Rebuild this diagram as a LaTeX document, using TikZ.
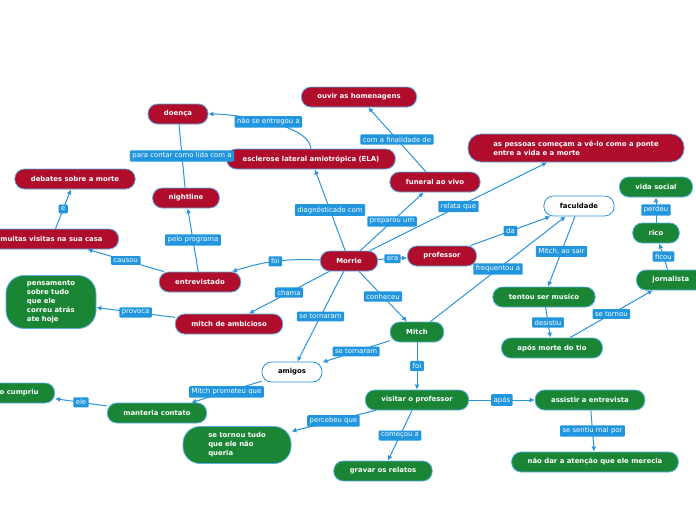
\documentclass[tikz,border=0pt]{standalone}
\usepackage{fontspec}
\setmainfont{DejaVu Sans}
\usetikzlibrary{arrows.meta,positioning}
\definecolor{mmred}{HTML}{B00C2B}
\definecolor{mmgreen}{HTML}{1B8536}
\definecolor{mmblue}{HTML}{2196DF}
\definecolor{mmline}{HTML}{2A93DB}
\definecolor{mmedge}{HTML}{5AAFE6}
\tikzset{
  mm/.style     = { draw=mmedge, line width=0.8pt, rounded corners=9.5pt, minimum height=20pt,
    inner xsep=16pt, text=white, font=\fontsize{6.9}{9}\selectfont\bfseries },
  redloc/.style = { mm, fill=mmred },
  grloc/.style  = { mm, fill=mmgreen },
  wloc/.style   = { mm, fill=white, draw=mmline, text=black },
  lbl/.style    = { fill=mmblue, text=white, inner xsep=2.5pt, inner ysep=2.4pt,
    rounded corners=1pt, font=\fontsize{6.9}{8}\selectfont },
  cn/.style     = { color=mmline, line width=1pt, -{Latex[length=5pt,width=5pt]} }
}
\begin{document}
\begin{tikzpicture}[x=1pt,y=-1pt]
      \path[use as bounding box, clip] (0,0) rectangle (696,520);
      % Morrie e os conceitos em volta
      \node[redloc] (ouvir) at (359,97) {ouvir as homenagens};
      \node[redloc] (doenca) at (178,114) {doença};
      \node[redloc] (escl) at (311,159) {esclerose lateral amiotrópica (ELA)};
      \node[redloc] (funeral) at (435,182) {funeral ao vivo};
      \node[redloc, align=left, minimum width=216pt, minimum height=28pt, rounded corners=13pt]
        (pessoas) at (576,148) {as pessoas começam a vê-lo como a ponte\\entre a vida e a morte};
      \node[redloc] (debates) at (75,179) {debates sobre a morte};
      \node[redloc] (night) at (186,198) {nightline};
      \node[redloc, anchor=east] (visitas) at (119,239) {muitas visitas na sua casa};
      \node[redloc] (entrev) at (200,282) {entrevistado};
      \node[redloc] (morrie) at (349,261) {Morrie};
      \node[redloc] (prof) at (442,256) {professor};
      \node[redloc] (ambic) at (229,324) {mitch de ambicioso};
      % Mitch
      \node[grloc] (social) at (656,187) {vida social};
      \node[grloc] (rico) at (656,233) {rico};
      \node[grloc, anchor=west] (jorn) at (636,280) {jornalista};
      \node[grloc] (musico) at (544,297) {tentou ser musico};
      \node[grloc] (tio) at (552,348) {após morte do tio};
      \node[grloc] (mitch) at (417,332) {Mitch};
      \node[grloc, align=left, minimum width=90pt, minimum height=53pt, rounded corners=18pt]
        (pensa) at (51,302) {pensamento\\sobre tudo\\que ele\\correu atrás\\ate hoje};
      \node[grloc] (visitar) at (417,400) {visitar o professor};
      \node[grloc] (assist) at (590,400) {assistir a entrevista};
      \node[grloc] (atencao) at (595,462) {não dar a atenção que ele merecia};
      \node[grloc] (gravar) at (383,471) {gravar os relatos};
      \node[grloc] (contato) at (157,413) {manteria contato};
      \node[grloc, align=left, minimum width=108pt, minimum height=37pt, rounded corners=17pt]
        (tudo) at (237,445) {se tornou tudo\\que ele não\\queria};
      \node[grloc, anchor=east] (cumpriu) at (55,393) {não cumpriu};
      \node[wloc] (facul) at (579,206) {faculdade};
      \node[wloc] (amigos) at (292,372) {amigos};
      % ligacoes
      \path[cn] (morrie) edge node[lbl] {diagnósticado com} (escl);
      \path[cn] (escl.north) edge[out=95, in=0, looseness=0.6] node[lbl] {não se entregou a} (doenca.east);
      \path[color=mmline, line width=1pt] (night) edge node[lbl] {para contar como lida com a} (doenca);
      \path[cn] (entrev) edge node[lbl] {pelo programa} (night);
      \path[cn] (entrev) edge node[lbl] {causou} (visitas);
      \path[cn] (visitas) edge node[lbl] {e} (debates);
      \path[cn] (morrie) edge[bend right=10] node[lbl] {foi} (entrev);
      \path[cn] (morrie) edge node[lbl] {preparou um} (funeral);
      \path[cn] (funeral) edge node[lbl] {com a finalidade de} (ouvir);
      \path[cn] (morrie) edge node[lbl] {relata que} (pessoas);
      \path[cn] (morrie) edge node[lbl] {era} (prof);
      \path[cn] (prof) edge node[lbl] {da} (facul);
      \path[cn] (mitch) edge node[lbl] {frequentou a} (facul);
      \path[cn] (facul) edge node[lbl] {Mitch, ao sair} (musico);
      \path[cn] (musico) edge node[lbl] {desistiu} (tio);
      \path[cn] ([xshift=18pt]tio.north) edge node[lbl] {se tornou} (jorn);
      \path[cn] (jorn) edge node[lbl] {ficou} (rico);
      \path[cn] (rico) edge node[lbl] {perdeu} (social);
      \path[cn] (morrie) edge node[lbl] {chama} (ambic);
      \path[cn] (ambic) edge node[lbl] {provoca} (pensa);
      \path[cn] (morrie) edge node[lbl] {se tornaram} (amigos);
      \path[cn] (morrie) edge node[lbl] {conheceu} (mitch);
      \path[cn] (mitch) edge node[lbl] {se tornaram} (amigos);
      \path[cn] (mitch) edge node[lbl] {foi} (visitar);
      \path[cn] (amigos) edge node[lbl] {Mitch prometeu que} (contato);
      \path[cn] (contato) edge node[lbl] {ele} (cumpriu);
      \path[cn] (visitar) edge node[lbl] {percebeu que} (tudo);
      \path[cn] (visitar) edge node[lbl] {começou a} (gravar);
      \path[cn] (visitar) edge node[lbl] {após} (assist);
      \path[cn] (assist) edge node[lbl] {se sentiu mal por} (atencao);
\end{tikzpicture}
\end{document}
